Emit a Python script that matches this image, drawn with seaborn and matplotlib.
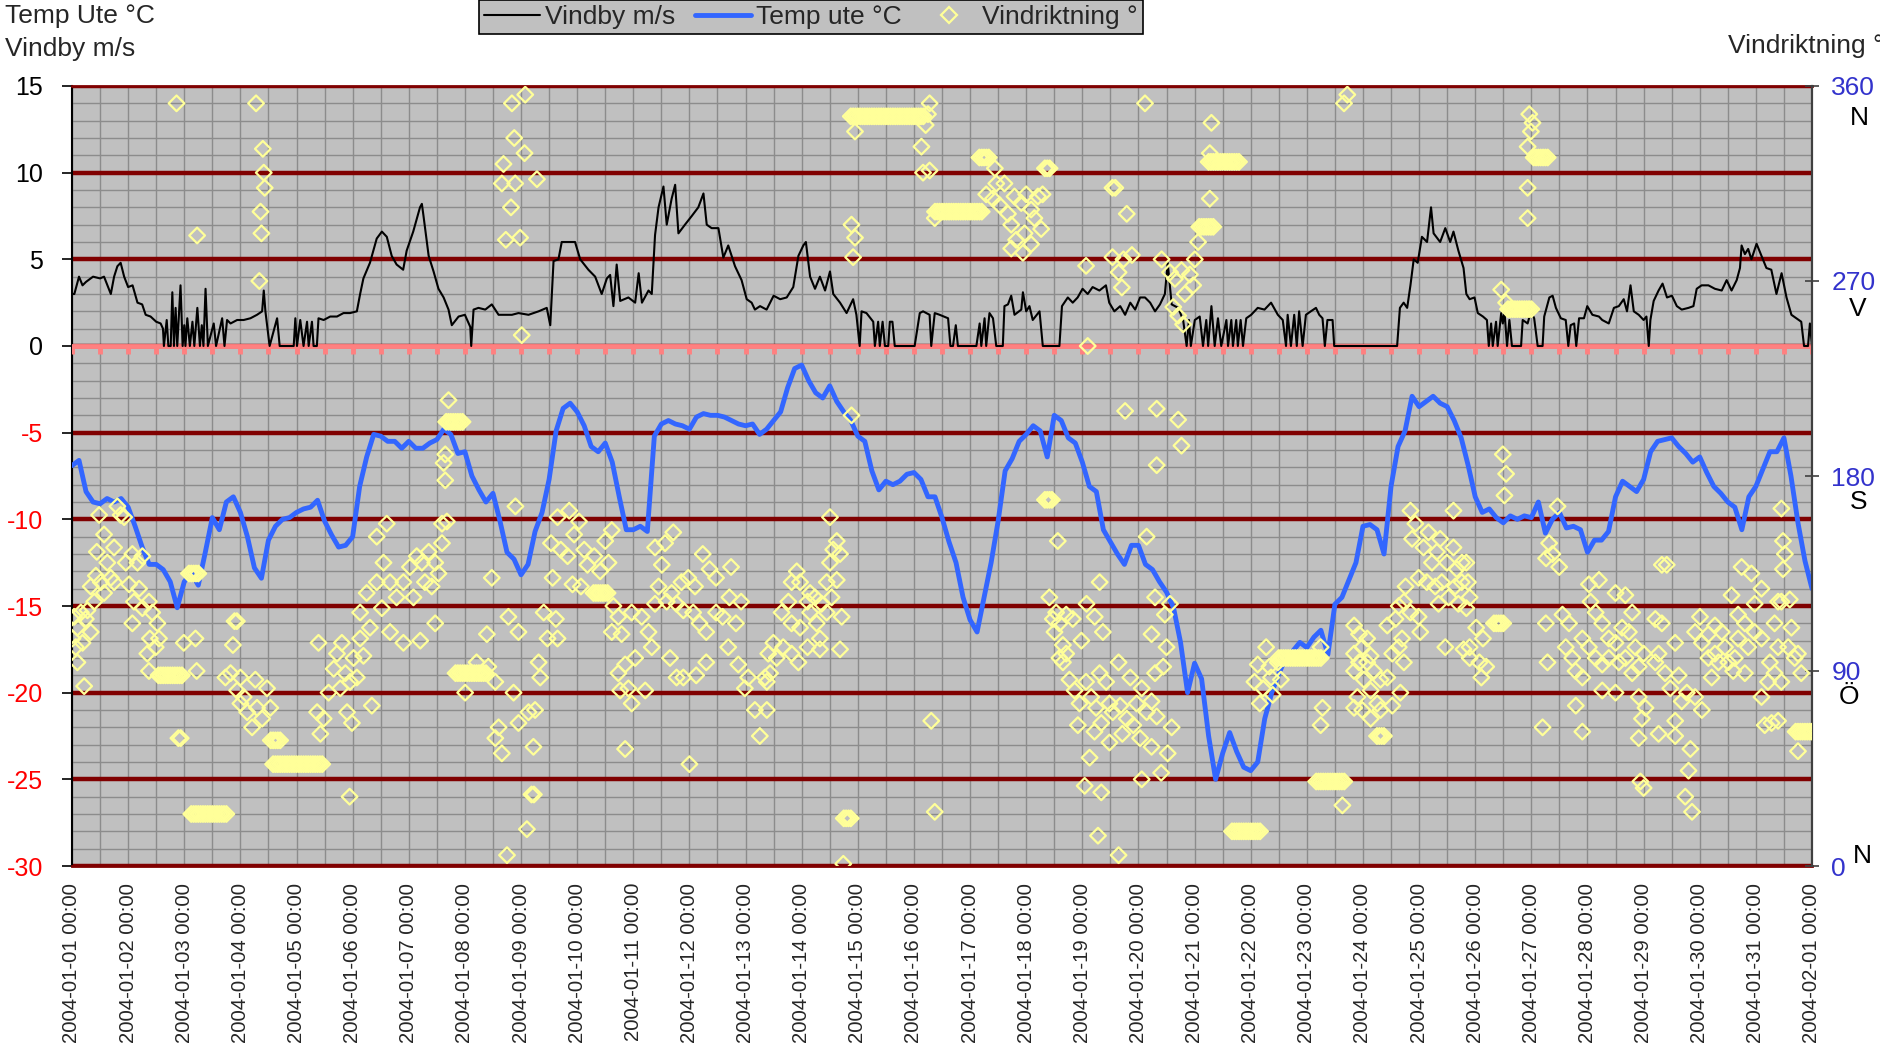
import numpy as np
import pandas as pd
import matplotlib
matplotlib.use('Agg')
import matplotlib.pyplot as plt
import matplotlib.dates as mdates
from matplotlib.ticker import MultipleLocator
from matplotlib.lines import Line2D
from matplotlib import markers
import seaborn as sns

# ------------------------------------------------------------------
# DATA
# ------------------------------------------------------------------
start = pd.Timestamp('2004-01-01 00:00')
end = pd.Timestamp('2004-02-01 00:00')

# outdoor temperature, every 3 hours from 2004-01-01 00:00
temp_3h = [
    -6.9, -6.6, -8.4, -9.0, -9.1, -8.8, -9.0, -8.8,
    -9.3, -10.4, -11.6, -12.6, -12.6, -12.9, -13.6, -15.1,
    -13.6, -13.1, -13.8, -11.9, -9.9, -10.6, -9.0, -8.7,
    -9.6, -11.0, -12.8, -13.4, -11.2, -10.4, -10.0, -9.9,
    -9.6, -9.4, -9.3, -8.9, -10.1, -10.9, -11.6, -11.5,
    -11.0, -8.1, -6.4, -5.1, -5.2, -5.5, -5.5, -5.9,
    -5.5, -5.9, -5.9, -5.6, -5.4, -4.8, -5.1, -6.2,
    -6.1, -7.5, -8.3, -9.0, -8.5, -10.1, -11.9, -12.3,
    -13.2, -12.6, -10.7, -9.6, -7.7, -4.9, -3.6, -3.3,
    -3.8, -4.6, -5.8, -6.1, -5.6, -6.7, -8.7, -10.6,
    -10.6, -10.4, -10.7, -5.2, -4.5, -4.3, -4.5, -4.6,
    -4.8, -4.1, -3.9, -4.0, -4.0, -4.1, -4.3, -4.5,
    -4.6, -4.5, -5.1, -4.8, -4.3, -3.8, -2.4, -1.3,
    -1.1, -2.0, -2.7, -3.0, -2.3, -3.2, -3.8, -4.3,
    -5.2, -5.5, -7.2, -8.3, -7.8, -8.0, -7.8, -7.4,
    -7.3, -7.7, -8.7, -8.7, -9.9, -11.3, -12.5, -14.5,
    -15.8, -16.5, -14.5, -12.5, -10.1, -7.2, -6.5, -5.5,
    -5.1, -4.6, -4.9, -6.4, -4.0, -4.3, -5.3, -5.6,
    -6.7, -8.1, -8.4, -10.6, -11.3, -12.0, -12.6, -11.5,
    -11.5, -12.6, -12.9, -13.6, -14.2, -15.1, -17.1, -20.0,
    -18.3, -19.2, -22.5, -25.0, -23.5, -22.3, -23.4, -24.3,
    -24.5, -24.0, -21.5, -20.0, -18.9, -18.0, -17.6, -17.1,
    -17.4, -16.8, -16.4, -17.8, -14.9, -14.5, -13.5, -12.5,
    -10.4, -10.3, -10.6, -12.0, -8.1, -5.8, -4.9, -2.9,
    -3.5, -3.2, -2.9, -3.3, -3.5, -4.3, -5.3, -6.9,
    -8.7, -9.6, -9.4, -9.9, -10.2, -9.8, -10.0, -9.8,
    -9.9, -9.0, -10.8, -10.0, -9.6, -10.5, -10.4, -10.6,
    -11.9, -11.2, -11.2, -10.7, -8.7, -7.8, -8.1, -8.4,
    -7.7, -6.1, -5.5, -5.4, -5.3, -5.8, -6.2, -6.7,
    -6.4, -7.3, -8.1, -8.5, -9.0, -9.3, -10.6, -8.7,
    -8.1, -7.1, -6.1, -6.1, -5.3, -7.5, -10.2, -12.4,
    -14.0,
]

# wind gust (hours since start, m/s)
wind_points = [
    (0, 3.0), (1, 3.0), (3, 4.0), (4.5, 3.5), (6, 3.7), (9, 4.0), (12, 3.9), (13.7, 4.0),
    (16.6, 3.0), (18, 4.0), (19.4, 4.6), (20.8, 4.8), (22.3, 4.0), (24, 3.4), (25.9, 3.5),
    (28, 2.5), (30, 2.4), (31.5, 1.8), (33.6, 1.7), (36, 1.4), (37.9, 1.3), (38.9, 1.0),
    (39.3, 0), (40.5, 1.5), (41.2, 0), (42.2, 0), (42.9, 3.1), (43.6, 0), (44.3, 2.2), (45, 0),
    (46.4, 3.5), (47.3, 0), (48.0, 1.2), (48.5, 0), (49.3, 1.6), (50.4, 0), (51.5, 1.4),
    (52.3, 0), (53.6, 2.2), (54.7, 0), (55.5, 1.2), (56.2, 0), (57.1, 3.3), (58.1, 0),
    (60.6, 1.3), (61.6, 0), (64.2, 1.6), (65.2, 0), (66.3, 1.5), (67.8, 1.3), (70.6, 1.5),
    (73.4, 1.5), (76.3, 1.6), (79.1, 1.8), (81.3, 2.0), (82, 3.2), (82.7, 2.0), (84.5, 0),
    (87.7, 1.6), (88.8, 0), (94.8, 0), (95.5, 1.6), (96.2, 0), (97.6, 1.5), (99, 0),
    (100.5, 1.4), (101.2, 0), (102.6, 1.4), (103.3, 0), (104.7, 0), (105.4, 1.6), (107.6, 1.5),
    (110.4, 1.7), (113.3, 1.7), (116.1, 1.9), (118.9, 1.9), (121.8, 2.0), (123.2, 3.0),
    (124.6, 3.9), (127.4, 4.8), (130.3, 6.2), (132.5, 6.6), (134.6, 6.3), (136.7, 5.2),
    (138.8, 4.7), (141.6, 4.4), (143.1, 5.5), (145.9, 6.6), (148.8, 8.0), (149.6, 8.2),
    (150.3, 7.5), (152.5, 5.2), (154.6, 4.3), (156.7, 3.3), (158.9, 2.8), (161, 2.1),
    (162.4, 1.2), (165.3, 1.7), (168, 1.8), (170.3, 1.1), (170.7, 0), (171.7, 2.1),
    (173.8, 2.2), (176.7, 2.1), (179.5, 2.4), (182.4, 1.8), (185.2, 1.8), (188.1, 1.8),
    (190.9, 1.9), (195.2, 1.8), (199.5, 2.0), (203, 2.2), (204.5, 1.2), (205.9, 4.9),
    (208, 5.0), (209.4, 6.0), (212.3, 6.0), (215.1, 6.0), (217.3, 5.0), (220.8, 4.4),
    (223.7, 4.0), (226.5, 3.0), (228.7, 3.9), (230.1, 4.1), (231.5, 2.3), (232.9, 4.7),
    (234.4, 2.6), (237.9, 2.8), (240.8, 2.5), (242.3, 4.2), (243.7, 2.5), (246.5, 3.2),
    (247.9, 3.0), (249.3, 6.4), (250.8, 8.0), (252.9, 9.2), (254.3, 7.0), (256.4, 8.5),
    (257.9, 9.3), (259.3, 6.5), (262.1, 7.0), (265, 7.5), (267.8, 8.0), (270, 8.8),
    (271.4, 7.0), (273.5, 6.8), (276.4, 6.8), (278.5, 5.1), (280.6, 5.8), (283.5, 4.6),
    (286.3, 3.8), (288.5, 2.7), (290.6, 2.5), (292, 2.1), (294.2, 2.3), (297, 2.1),
    (300, 2.9), (302.8, 2.7), (305.6, 2.8), (308.4, 3.4), (310.6, 5.2), (312.7, 5.8),
    (313.8, 6.0), (315.6, 4.0), (317.7, 3.3), (319.8, 4.0), (322, 3.2), (324.1, 4.3),
    (325.5, 3.0), (328.4, 2.5), (331.2, 1.9), (334, 2.7), (335.4, 1.8), (336.8, 0),
    (337.6, 2.0), (339.7, 1.9), (342.6, 1.4), (343.3, 0), (344.7, 1.4), (345.4, 0),
    (346.6, 1.4), (347.6, 0), (349, 0), (349.7, 1.4), (350.8, 1.4), (351.8, 0), (360.3, 0),
    (362.5, 1.9), (363.9, 2.0), (366.7, 1.8), (367.4, 0), (368.9, 1.9), (371, 1.8),
    (374.6, 1.6), (375.6, 0), (376.7, 0), (377.9, 1.2), (378.8, 0), (386.7, 0), (388.1, 1.3),
    (388.8, 0), (390.2, 1.6), (390.9, 0), (392.3, 1.9), (393.8, 1.6), (395.2, 0), (398, 0),
    (398.7, 2.3), (400.2, 2.4), (401.6, 2.9), (403, 1.8), (405.9, 2.1), (406.6, 3.1),
    (408, 2.0), (409.4, 2.3), (410.8, 1.5), (413.7, 2.0), (415.1, 0), (422.2, 0), (423.3, 2.3),
    (425.8, 2.8), (427.9, 2.5), (430, 2.8), (432.1, 3.3), (434.3, 3.0), (436.4, 3.4),
    (439.3, 3.2), (442.1, 3.5), (443.5, 2.5), (445.7, 2.0), (448.2, 2.3), (450.3, 1.8),
    (452.5, 2.5), (454.6, 2.1), (456.7, 2.8), (458.8, 2.8), (461, 2.5), (463.1, 2.0),
    (465.2, 2.4), (467.3, 3.0), (468.5, 4.8), (470.2, 2.4), (473, 2.2), (475.1, 1.5),
    (476.6, 0), (477.6, 1.5), (478.4, 0), (480.1, 1.5), (482.2, 1.7), (483.6, 0), (485, 1.5),
    (485.8, 0), (487.2, 2.3), (488.6, 0), (490, 1.6), (491.4, 0), (493.6, 1.5), (494.3, 0),
    (495.7, 1.5), (496.4, 0), (497.8, 1.5), (498.5, 0), (499.7, 1.5), (500.7, 0), (502.1, 1.6),
    (504.2, 1.8), (507, 2.2), (509.9, 2.1), (512.7, 2.5), (515.6, 1.8), (517.7, 1.5),
    (519.1, 0), (519.8, 1.8), (521.2, 0), (522.6, 1.8), (523.7, 0), (524.7, 2.0), (526.2, 0),
    (527.6, 1.8), (529.7, 2.0), (531.9, 2.2), (533.3, 1.8), (534.7, 1.6), (535.7, 0),
    (536.8, 1.5), (539, 1.5), (539.7, 0), (566.6, 0), (567.8, 2.2), (569.4, 2.5), (570.9, 2.2),
    (572.3, 3.5), (573.7, 5.0), (575.4, 4.8), (577.2, 6.3), (579.4, 6.0), (581.1, 8.0),
    (582.2, 6.5), (585, 6.0), (587.2, 6.8), (589.3, 6.0), (590.7, 6.6), (592.8, 5.5),
    (595, 4.5), (596.2, 3.0), (597.6, 2.7), (599.7, 2.8), (601.1, 1.9), (603.3, 1.7),
    (605, 1.5), (605.8, 0), (606.8, 1.3), (607.5, 0), (608.9, 1.4), (609.6, 0), (611.1, 1.9),
    (611.8, 1.3), (612.5, 2.0), (613.6, 0), (614.6, 1.5), (615.7, 0), (619.6, 0), (620.3, 1.5),
    (622.4, 1.3), (623.8, 2.0), (625.2, 1.6), (626.7, 0), (628.8, 0), (629.5, 1.7),
    (631.7, 2.8), (633.1, 2.9), (634.5, 2.2), (636.6, 1.6), (638.7, 1.5), (639.8, 0),
    (640.8, 1.2), (642.3, 1.3), (643.2, 0), (644.4, 1.6), (646.5, 1.6), (647.9, 2.3),
    (650.1, 1.8), (652.9, 1.7), (654.3, 1.5), (657.1, 1.3), (659.3, 2.2), (661.4, 2.3),
    (663.5, 2.7), (664.9, 2.0), (666.4, 3.5), (667.8, 2.0), (669.9, 1.8), (672, 1.5),
    (673.2, 1.7), (674.2, 0), (674.9, 1.5), (676.3, 2.6), (678.4, 3.2), (680.1, 3.6),
    (682, 2.8), (684.1, 2.9), (686.2, 2.3), (688.3, 2.1), (691.2, 2.2), (693.3, 2.3),
    (694.7, 3.3), (696.8, 3.5), (699.7, 3.5), (702.5, 3.3), (705.4, 3.2), (707.5, 3.8),
    (709.6, 3.2), (711.8, 3.8), (713.2, 4.5), (713.9, 5.8), (715.3, 5.3), (716.7, 5.6),
    (718.1, 5.0), (720.3, 5.9), (722.4, 5.2), (724.5, 4.5), (726.6, 4.4), (728.8, 3.0),
    (731, 4.2), (733.1, 2.8), (735.2, 1.8), (737.3, 1.6), (739.4, 1.4), (740.6, 0),
    (742.3, 0), (743.1, 1.3), (744, 0),
]

# wind direction, single readings (hours since start, degrees)
dir_points = [
    (44.7, 352), (78.7, 352), (81.6, 331), (82, 320), (82.4, 313), (80.6, 302), (81, 292),
    (53.5, 291), (80.1, 270), (11.6, 162), (13.7, 153), (10.6, 145), (15.1, 140), (18, 147),
    (19.4, 166), (20.8, 162), (22.3, 161), (10.2, 134), (12.3, 131), (16.6, 133), (8, 129),
    (9.5, 122), (13.7, 126), (18, 131), (23, 140), (25.8, 144), (28, 140), (30.1, 143),
    (24.4, 130), (26.5, 122), (28.7, 128), (30.1, 119), (32.9, 122), (34.3, 117), (36.5, 112),
    (33.3, 105), (37.2, 105), (32.2, 98), (35.8, 101), (32.9, 90), (25.8, 112), (0.9, 115),
    (2.3, 110), (0.2, 105), (3.8, 117), (5.9, 114), (8, 108), (1.6, 101), (4.5, 103),
    (2.3, 94), (5.2, 83), (6.6, 118), (47.8, 103), (52.8, 105), (53.3, 90), (68.8, 102),
    (65.6, 87), (67.8, 89), (72, 87), (70.6, 81), (73.4, 78), (74.9, 71), (77, 64), (79.1, 73),
    (81.3, 68), (83.4, 82), (84.8, 73), (78.4, 86), (72, 75), (105.4, 103), (104.8, 71),
    (106.2, 61), (107.6, 68), (109.7, 80), (111.9, 91), (113.3, 98), (115.4, 103), (114.7, 82),
    (116.9, 89), (117.6, 71), (119.7, 66), (120.4, 96), (118.9, 85), (121.8, 87), (124.6, 97),
    (128.2, 74), (118.7, 32), (123.2, 117), (126, 126), (130.3, 131), (127.4, 110), (133.2, 140),
    (130.3, 152), (134.6, 158), (132.5, 119), (136, 131), (138.8, 124), (141.7, 131),
    (141.7, 103), (136, 108), (144.5, 138), (147.4, 143), (146, 124), (123.2, 105),
    (188.1, 352), (193.8, 356), (189.1, 336), (193.5, 329), (184.5, 324), (183.8, 315),
    (189.5, 315), (198.8, 317), (187.7, 304), (185.5, 289), (191.6, 290), (192.3, 245),
    (161, 215), (159.6, 190), (158.9, 186), (159.6, 178), (160.3, 159), (158.2, 158),
    (158.2, 149), (152.5, 145), (149.6, 140), (155.3, 140), (156.7, 135), (150.9, 131),
    (153.8, 129), (155.3, 112), (148.9, 104), (189.6, 166), (179.5, 133), (186.6, 115),
    (190.9, 108), (177.4, 107), (168.1, 80), (173, 94), (178, 92), (181, 85), (188.8, 80),
    (182.4, 64), (181, 59), (183.8, 52), (190.9, 66), (195.2, 71), (198, 72), (197.3, 55),
    (194.5, 17), (186, 5), (199.5, 94), (200.2, 87), (203.3, 105), (207.6, 105), (206.9, 114),
    (201.7, 117), (205.5, 133), (207.6, 161), (212.6, 164), (216.8, 159), (204.8, 149),
    (209, 146), (211.9, 143), (214.7, 153), (219, 146), (220.4, 139), (223.3, 143), (214, 130),
    (217.6, 129), (231.5, 120), (230.8, 155), (228, 150), (229.4, 140), (225.8, 136),
    (233.6, 115), (230.8, 108), (235, 107), (239.3, 117), (243.6, 115), (246.5, 108),
    (247.9, 101), (240.8, 96), (236.5, 93), (233.6, 89), (234.4, 81), (237.9, 82), (245.1, 81),
    (239.3, 75), (236.5, 54), (249.3, 147), (253.6, 149), (257.1, 154), (252.2, 139),
    (249.3, 121), (250.8, 129), (254.3, 122), (256.4, 126), (260.6, 131), (263.5, 133),
    (266.4, 129), (258.5, 121), (261.4, 118), (265.6, 117), (269.7, 144), (272.6, 137),
    (275.4, 133), (281.8, 138), (268.3, 112), (271.2, 108), (275.4, 117), (278.2, 115),
    (281.1, 124), (283.9, 112), (286.1, 122), (271.2, 94), (266.9, 88), (261.4, 87),
    (255.7, 96), (258.5, 87), (264, 47), (280.6, 101), (284.9, 93), (289.1, 87), (287.7, 82),
    (292, 72), (294.1, 60), (296.3, 87), (297.7, 98),
    (334.8, 339), (366.7, 352), (366, 347), (365, 342), (363.2, 332), (363.9, 320),
    (366.7, 321), (394.6, 322), (368.9, 299), (395.2, 315), (398.7, 315), (390.9, 310),
    (393.8, 308), (396.6, 305), (400.2, 301), (403, 309), (405.9, 306), (408, 310),
    (410.1, 303), (413, 309), (415, 310), (411.5, 299), (414.4, 294), (401.6, 296),
    (403.7, 289), (407.3, 292), (410.1, 287), (406.6, 283), (401.6, 285), (444.9, 313),
    (333.3, 296), (334.8, 290), (334, 281), (433.6, 277), (444.9, 281), (434.3, 240),
    (333.3, 208), (324.1, 161), (327, 150), (325.5, 146), (324.1, 140), (328.4, 144),
    (322.7, 131), (327, 132), (324.8, 124), (329.1, 115), (328.4, 100), (309.9, 136),
    (311.3, 131), (307.7, 131), (315.6, 126), (317.7, 124), (320.5, 121), (322.7, 117),
    (314.5, 122), (306.3, 122), (303.4, 117), (307.7, 112), (311.3, 110), (315.6, 117),
    (318.4, 112), (319.8, 105), (314.5, 101), (319.8, 100), (310.6, 94), (307.7, 98),
    (304.1, 101), (299.9, 103), (301.3, 96), (298.5, 89), (297.1, 85), (297.1, 72),
    (367.4, 67), (368.9, 25), (329.8, 1), (421.5, 150), (417.9, 124), (420.8, 117),
    (419.4, 114), (422.2, 112), (425.1, 116), (427.9, 114), (420.1, 108), (423.7, 102),
    (425.1, 98), (422.2, 96), (423.7, 94), (431.6, 104), (433.8, 121), (437.3, 115),
    (439.4, 131), (440.8, 108), (426.5, 86), (428.7, 81), (430.8, 75), (433.6, 85),
    (435.8, 78), (437.9, 73), (439.4, 89), (442.2, 85), (443.6, 75), (445, 71), (440.1, 66),
    (430.1, 65), (437.2, 62), (443.6, 57), (435.1, 50), (433, 37), (440.1, 34), (438.7, 14),
    (458.8, 352), (487.2, 343), (486.5, 329), (486.5, 308), (481.5, 288), (480.1, 280),
    (446.1, 313), (451, 301), (453.2, 282), (449.6, 280), (447.5, 274), (448.9, 267),
    (465.9, 280), (469.5, 274), (471.6, 271), (474.4, 275), (475.8, 264), (478, 273),
    (479.4, 268), (470.9, 258), (473, 254), (475.1, 250), (545.3, 356), (543.9, 352),
    (450.3, 210), (463.8, 211), (473, 206), (474.4, 194), (463.8, 185), (459.5, 152),
    (463.1, 124), (469.5, 121), (467.3, 116), (461.6, 107), (468, 101), (447.5, 94),
    (452.5, 87), (457.4, 82), (463.1, 89), (466.6, 92), (461.6, 76), (455.2, 75), (448.2, 74),
    (451, 68), (453.8, 65), (449.1, 61), (456.7, 59), (461.6, 55), (470.2, 64), (468.5, 52),
    (465.7, 43), (457.4, 40), (447.5, 5), (459.5, 71), (463.8, 69), (510.6, 101), (507, 93),
    (512, 92), (515.6, 94), (505.6, 85), (509.2, 82), (512.7, 87), (507.9, 75), (513.4, 79),
    (516.9, 86), (533.9, 101), (534.7, 73), (533.9, 65), (543.2, 28), (548.2, 111),
    (550.3, 107), (553.8, 105), (548.2, 98), (551.7, 101), (555.3, 97), (550.3, 94),
    (553.8, 94), (556.7, 90), (548.2, 90), (552.4, 86), (555.3, 81), (559.5, 86), (549.6, 78),
    (548.2, 73), (551.7, 72), (555.3, 68), (558.1, 75), (559.5, 72), (562.4, 87), (564.5, 74),
    (568, 80), (562.4, 111), (565.9, 114), (564.5, 98), (567.3, 101), (569.5, 94),
    (568.7, 105), (567.3, 120), (570.2, 129), (569.5, 122), (572.3, 117), (575.8, 115),
    (576.5, 108), (572.3, 164), (574.4, 158), (573, 151), (577.9, 147), (580, 154),
    (581.5, 140), (583.6, 145), (585, 151), (587.9, 140), (590.7, 147), (592.1, 137),
    (594.3, 140), (575.8, 133), (579.3, 131), (582.9, 129), (585.7, 131), (588.6, 124),
    (591.4, 129), (594.2, 131), (584.3, 121), (592.8, 121), (590.7, 164), (587.2, 101),
    (595, 100), (623.1, 347), (624.5, 343), (623.8, 339), (622.4, 332), (622.4, 313),
    (622.4, 299), (611.1, 266), (613.2, 260), (611.8, 190), (613.2, 181), (612.5, 171),
    (635.2, 166), (631.6, 149), (633, 144), (635.9, 138), (630.3, 142), (596.2, 140),
    (596.9, 131), (597.6, 124), (596.2, 119), (600.4, 110), (603.3, 105), (597.6, 101),
    (601.8, 94), (604.7, 92), (602.6, 87), (597.6, 96), (630.2, 112), (630.9, 94), (628.8, 64),
    (637.3, 116), (640.1, 112), (638.7, 101), (641.5, 96), (642.9, 90), (645.8, 87),
    (648.6, 130), (652.9, 132), (649.3, 122), (651.5, 117), (654.3, 112), (645.8, 105),
    (648.6, 101), (651.5, 96), (654.3, 93), (643, 74), (645.8, 62), (654.3, 81), (660, 80),
    (660, 126), (664.2, 125), (657.1, 105), (660, 103), (662.8, 110), (667.1, 117),
    (665.7, 108), (664.2, 96), (667.1, 89), (657.1, 96), (661.4, 94), (668.5, 101),
    (669.9, 92), (672, 98), (669.9, 78), (672.8, 73), (671.3, 68), (669.9, 59), (678.4, 61),
    (670.6, 39), (672, 36), (679.8, 139), (681.9, 139), (677, 114), (679.8, 112), (678.4, 98),
    (677, 94), (681.2, 89), (683.4, 82), (685.5, 103), (687, 88), (688.3, 76), (690.5, 80),
    (685.5, 67), (685.5, 60), (692, 54), (691.2, 44), (689.8, 32), (692.7, 25), (694, 78),
    (696.9, 72), (696.1, 115), (694, 108), (696.9, 103), (699.7, 107), (702.5, 111),
    (705.4, 108), (706.8, 101), (702.5, 98), (699.7, 96), (704, 94), (701.1, 87), (708.2, 94),
    (710.3, 90), (709.6, 125), (712.4, 116), (715.3, 112), (716.7, 101), (713.9, 138),
    (718.1, 135), (722.4, 128), (719.5, 121), (722.4, 105), (719.5, 108), (712.4, 105),
    (711, 96), (715.3, 89), (722.4, 78), (723.8, 65), (726.7, 66), (729.5, 67), (725.2, 85),
    (728, 89), (730.9, 85), (726, 94), (729.5, 101), (728, 112), (730.9, 122), (734.5, 123),
    (735.2, 110), (733.8, 101), (736.6, 96), (738, 98), (739.4, 89), (730.9, 165),
    (731.6, 150), (732.4, 144), (731.6, 137), (738, 53), (729.5, 122),
]

# wind direction, runs of identical hourly readings (first hour, last hour, degrees)
run_start = [37, 45.5, 51, 50, 69.5, 85, 86, 160, 164, 196.5, 223, 330, 333, 369,
             388, 416, 416, 482, 486, 496, 516, 532, 558, 608, 614, 625, 737]
run_end = [47, 47, 66, 54, 70.5, 89, 107, 167, 177, 198, 229, 333, 364, 389,
           392, 418, 419, 488, 499, 508, 534, 544, 561, 612, 624, 631, 744]
run_deg = [88, 59, 24, 135, 113, 58, 47, 205, 89, 33, 126, 22, 346, 302,
           327, 322, 169, 295, 325, 16, 96, 39, 60, 112, 257, 327, 62]

left_ticks = [-30, -25, -20, -15, -10, -5, 0, 5, 10, 15]
right_ticks = [0, 90, 180, 270, 360]
compass = [(0, 'N'), (90, 'Ö'), (180, 'S'), (270, 'V'), (360, 'N')]

# ------------------------------------------------------------------
# BUILD TABLES
# ------------------------------------------------------------------
temp_df = pd.DataFrame({
    'time': pd.date_range(start, periods=len(temp_3h), freq='3h'),
    'temp': temp_3h,
})
wind_df = pd.DataFrame(wind_points, columns=['hour', 'wind'])
wind_df['time'] = start + pd.to_timedelta(wind_df['hour'], unit='h')

dir_df = pd.DataFrame(dir_points, columns=['hour', 'deg'])
runs = []
for s, e, d in zip(run_start, run_end, run_deg):
    for h in np.arange(s, e + 0.01, 1.0):
        runs.append((h, d))
dir_df = pd.concat([dir_df, pd.DataFrame(runs, columns=['hour', 'deg'])], ignore_index=True)
dir_df['time'] = start + pd.to_timedelta(dir_df['hour'], unit='h')

# ------------------------------------------------------------------
# STYLE
# ------------------------------------------------------------------
sns.set_style('white')
plt.rcParams['font.family'] = ['Liberation Sans', 'DejaVu Sans']
plt.rcParams['axes.unicode_minus'] = False

GRAY_BG = '#c0c0c0'
GRID = '#8c8c8c'
DARK_RED = '#800000'
PINK = '#ff8080'
BLUE = '#3366ff'
YELLOW = '#ffff99'
NUM_BLUE = '#3333cc'

W, H = 1881, 1051
fig = plt.figure(figsize=(W / 100, H / 100), dpi=100)
ax = fig.add_axes([72 / W, (H - 866) / H, 1740 / W, 780 / H])
ax.set_facecolor(GRAY_BG)

# ------------------------------------------------------------------
# LEFT AXIS: wind gust + temperature
# ------------------------------------------------------------------
sns.lineplot(data=wind_df, x='time', y='wind', ax=ax, color='black', lw=1.5,
             errorbar=None, zorder=4)
sns.lineplot(data=temp_df, x='time', y='temp', ax=ax, color=BLUE, lw=3.5,
             errorbar=None, zorder=5)

ax.set_xlim(start, end)
ax.set_ylim(-30, 15)
ax.set_xlabel('')
ax.set_ylabel('')

ax.xaxis.set_major_locator(mdates.DayLocator())
ax.xaxis.set_minor_locator(mdates.HourLocator(byhour=[12]))
ax.xaxis.set_major_formatter(mdates.DateFormatter('%Y-%m-%d %H:%M'))
ax.set_yticks(left_ticks)
ax.yaxis.set_minor_locator(MultipleLocator(1))

ax.set_axisbelow(True)
ax.grid(which='major', axis='x', color=GRID, lw=1)
ax.grid(which='minor', axis='both', color=GRID, lw=1)
ax.grid(which='major', axis='y', color=DARK_RED, lw=3.2)

# category axis crossing at 0 (pink with downward tick marks every 12 h)
ax.axhline(0, color=PINK, lw=3.5, zorder=3)
half_days = pd.date_range(start, end, freq='12h')
ax.plot(half_days, np.zeros(len(half_days)), ls='none', marker=markers.TICKDOWN,
        ms=6, mew=3.5, color=PINK, zorder=3)

ax.tick_params(axis='x', which='both', length=0, pad=12, labelsize=14.6,
               labelrotation=90)
ax.tick_params(axis='y', which='major', direction='out', length=7, width=1.2,
               color='black', labelsize=18, pad=14)
ax.tick_params(axis='y', which='minor', length=0)
ax.set_yticklabels([str(v) for v in left_ticks])
for lab, v in zip(ax.get_yticklabels(), left_ticks):
    lab.set_color('#ff0000' if v < 0 else 'black')

for side in ['left', 'right']:
    ax.spines[side].set_color('black')
    ax.spines[side].set_linewidth(1.5)
for side in ['top', 'bottom']:
    ax.spines[side].set_color(DARK_RED)
    ax.spines[side].set_linewidth(2)

# ------------------------------------------------------------------
# RIGHT AXIS: wind direction
# ------------------------------------------------------------------
ax2 = ax.twinx()
sns.scatterplot(data=dir_df, x='time', y='deg', ax=ax2, marker='D', s=64,
                color=YELLOW, facecolor='none', edgecolor=YELLOW, linewidth=1.6,
                zorder=6)
ax2.set_ylim(0, 360)
ax2.set_xlim(start, end)
ax2.set_ylabel('')
ax2.set_xlabel('')
ax2.grid(False)
ax2.set_yticks(right_ticks)
ax2.tick_params(axis='y', direction='inout', length=10, width=1.2, color='#404040',
                labelsize=19, labelcolor=NUM_BLUE, pad=9)
for side in ['left', 'top', 'bottom']:
    ax2.spines[side].set_visible(False)
ax2.spines['right'].set_color('#404040')
ax2.spines['right'].set_linewidth(1.5)

ytrans = ax2.get_yaxis_transform()
offsets = {0: 4.5, 90: -12, 180: -12, 270: -13, 360: -15}
xpos = {0: 1.029, 90: 1.0215, 180: 1.0265, 270: 1.0265, 360: 1.0275}
for deg, letter in compass:
    ax2.text(xpos[deg], deg + offsets[deg], letter, transform=ytrans, fontsize=19,
             ha='center', va='center', color='black', clip_on=False)

# ------------------------------------------------------------------
# TITLES AND LEGEND
# ------------------------------------------------------------------
fig.text(5 / W, 1 - 16 / H, 'Temp Ute °C', fontsize=19, ha='left', va='center')
fig.text(5 / W, 1 - 49 / H, 'Vindby m/s', fontsize=19, ha='left', va='center')
fig.text(1728 / W, 1 - 46 / H, 'Vindriktning °', fontsize=19, ha='left', va='center')

handles = [
    Line2D([], [], color='black', lw=1.5),
    Line2D([], [], color=BLUE, lw=3.5),
    Line2D([], [], ls='none', marker='D', ms=8, mfc='none', mec=YELLOW, mew=1.6),
]
labels = ['Vindby m/s', 'Temp ute °C', 'Vindriktning °']
leg = fig.legend(handles, labels, loc='center', bbox_to_anchor=(811 / W, 1 - 17 / H),
                 ncol=3, frameon=True, fancybox=False, edgecolor='black',
                 facecolor=GRAY_BG, framealpha=1, fontsize=19, handlelength=2.1,
                 handletextpad=0.2, columnspacing=0.75, borderpad=0.2,
                 borderaxespad=0)
leg.get_frame().set_linewidth(1.2)

plt.savefig('out.png', dpi=100)
plt.close()
